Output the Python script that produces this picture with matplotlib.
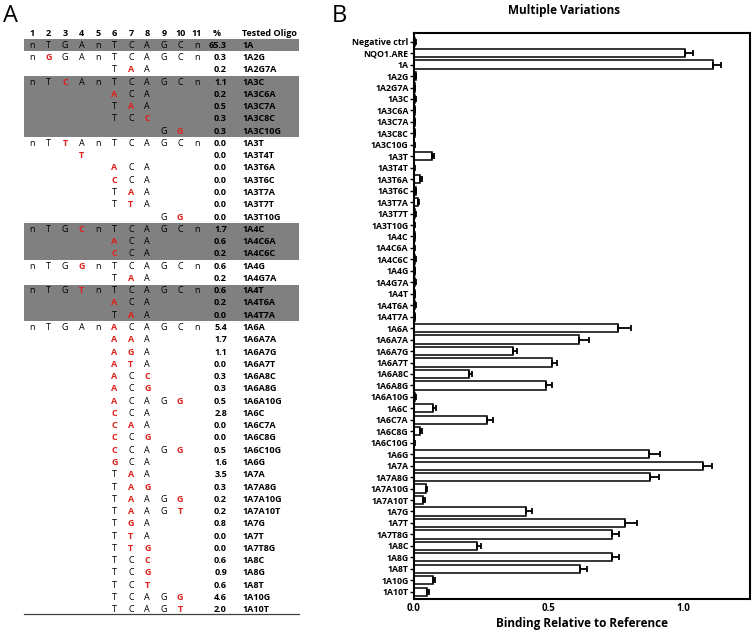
import numpy as np
import matplotlib
matplotlib.use("Agg")
import matplotlib.pyplot as plt
from matplotlib.patches import Rectangle

plt.rcParams['font.family'] = ['Open Sans', 'DejaVu Sans']

# ---- panel A: table of oligos ----
# sequence per row (11 columns, '.' = blank), red columns (1-based), percent, name
seqs = ["nTGAnTCAGCn", "nGGAnTCAGCn", ".....TAA...",
        "nTCAnTCAGCn", ".....ACA...", ".....TAA...", ".....TCC...", "........GG.",
        "nTTAnTCAGCn", "...T.......", ".....ACA...", ".....CCA...", ".....TAA...",
        ".....TTA...", "........GG.",
        "nTGCnTCAGCn", ".....ACA...", ".....CCA...",
        "nTGGnTCAGCn", ".....TAA...",
        "nTGTnTCAGCn", ".....ACA...", ".....TAA...",
        "nTGAnACAGCn", ".....AAA...", ".....AGA...", ".....ATA...", ".....ACC...",
        ".....ACG...", ".....ACAGG.", ".....CCA...", ".....CAA...", ".....CCG...",
        ".....CCAGG.", ".....GCA...",
        ".....TAA...", ".....TAG...", ".....TAAGG.", ".....TAAGT.", ".....TGA...",
        ".....TTA...", ".....TTG...", ".....TCC...", ".....TCG...", ".....TCT...",
        ".....TCAGG.", ".....TCAGT."]
red_cols = [[], [2], [7],
            [3], [6], [7], [8], [10],
            [3], [4], [6], [6], [7], [7], [10],
            [4], [6], [6],
            [4], [7],
            [4], [6], [7],
            [6], [6, 7], [6, 7], [6, 7], [6, 8], [6, 8], [6, 10], [6], [6, 7], [6, 8],
            [6, 10], [6],
            [7], [7, 8], [7, 10], [7, 10], [7], [7], [7, 8], [8], [8], [8], [10], [10]]
percents = ["65.3", "0.3", "0.2", "1.1", "0.2", "0.5", "0.3", "0.3",
            "0.0", "0.0", "0.0", "0.0", "0.0", "0.0", "0.0",
            "1.7", "0.6", "0.2", "0.6", "0.2", "0.6", "0.2", "0.0",
            "5.4", "1.7", "1.1", "0.0", "0.3", "0.3", "0.5", "2.8", "0.0", "0.0",
            "0.5", "1.6", "3.5", "0.3", "0.2", "0.2", "0.8", "0.0", "0.0",
            "0.6", "0.9", "0.6", "4.6", "2.0"]
oligos = ["1A", "1A2G", "1A2G7A", "1A3C", "1A3C6A", "1A3C7A", "1A3C8C", "1A3C10G",
          "1A3T", "1A3T4T", "1A3T6A", "1A3T6C", "1A3T7A", "1A3T7T", "1A3T10G",
          "1A4C", "1A4C6A", "1A4C6C", "1A4G", "1A4G7A", "1A4T", "1A4T6A", "1A4T7A",
          "1A6A", "1A6A7A", "1A6A7G", "1A6A7T", "1A6A8C", "1A6A8G", "1A6A10G",
          "1A6C", "1A6C7A", "1A6C8G", "1A6C10G", "1A6G",
          "1A7A", "1A7A8G", "1A7A10G", "1A7A10T", "1A7G", "1A7T", "1A7T8G",
          "1A8C", "1A8G", "1A8T", "1A10G", "1A10T"]
gray_rows = [0, 3, 4, 5, 6, 7, 15, 16, 17, 20, 21, 22]

# ---- panel B: binding ----
labels = ["Negative ctrl", "NQO1.ARE"] + oligos
binding = [0.005, 1.005, 1.11, 0.006, 0.002, 0.004, 0.002, 0.002, 0.002, 0.001,
           0.066, 0.001, 0.024, 0.006, 0.014, 0.005, 0.001,
           0.002, 0.001, 0.004, 0.003, 0.005, 0.003, 0.005, 0.003,
           0.756, 0.613, 0.367, 0.512, 0.204, 0.491, 0.005,
           0.070, 0.272, 0.022, 0.001, 0.872,
           1.073, 0.877, 0.044, 0.035, 0.414, 0.784, 0.735,
           0.233, 0.735, 0.615, 0.069, 0.049]
binding_err = [0.004, 0.03, 0.028, 0.003, 0.001, 0.002, 0.001, 0.001, 0.002, 0.001,
               0.007, 0.001, 0.006, 0.003, 0.003, 0.002, 0.001,
               0.001, 0.001, 0.002, 0.002, 0.002, 0.002, 0.002, 0.001,
               0.05, 0.037, 0.014, 0.017, 0.012, 0.02, 0.002,
               0.01, 0.02, 0.008, 0.001, 0.04,
               0.034, 0.033, 0.004, 0.004, 0.024, 0.042, 0.027,
               0.016, 0.027, 0.028, 0.008, 0.006]

W, H = 752, 630
fig = plt.figure(figsize=(W / 100, H / 100), dpi=100)

# panel A drawn in pixel coordinates
axa = fig.add_axes([0, 0, 1, 1])
axa.set_xlim(0, W)
axa.set_ylim(H, 0)
axa.axis("off")

col_x = 32 + np.arange(11) * 16.47
y0, dy = 45.3, 12.27
fs = 6.5

for r in gray_rows:
    axa.add_patch(Rectangle((24, y0 + r * dy - dy / 2), 275, dy,
                            facecolor="#808080", edgecolor="none", zorder=0))

for c in range(11):
    axa.text(col_x[c], 33.5, str(c + 1), ha="center", va="center",
             fontsize=fs, fontweight="bold")
axa.text(213, 33.5, "%", ha="left", va="center", fontsize=fs, fontweight="bold")
axa.text(242, 33.5, "Tested Oligo", ha="left", va="center", fontsize=fs,
         fontweight="bold")

for i, s in enumerate(seqs):
    y = y0 + i * dy
    for c, ch in enumerate(s):
        if ch == ".":
            continue
        red = (c + 1) in red_cols[i]
        axa.text(col_x[c], y, ch, ha="center", va="center", fontsize=fs,
                 color="#e0201b" if red else "black",
                 fontweight="bold" if red else "normal")
    axa.text(227, y, percents[i], ha="right", va="center", fontsize=fs,
             fontweight="bold")
    axa.text(242, y, oligos[i], ha="left", va="center", fontsize=fs,
             fontweight="bold")

axa.plot([24, 299], [614.3, 614.3], color="#404040", lw=0.9)

axa.text(3, 16.5, "A", fontsize=17, ha="left", va="center")
axa.text(332, 16.5, "B", fontsize=17, ha="left", va="center")

# panel B
axb = fig.add_axes([414 / W, 1 - 599 / H, (749.5 - 414) / W, (599 - 33) / H])
y = np.arange(len(labels))
axb.barh(y, binding, height=0.72, color="white", edgecolor="black", linewidth=1.1)
axb.errorbar(binding, y, xerr=[np.zeros(len(y)), binding_err], fmt="none",
             ecolor="black", elinewidth=1.3, capsize=2.2, capthick=1.3)
axb.set_ylim(48.64, -0.76)
axb.set_xlim(0, 1.245)
axb.set_yticks(y)
axb.set_yticklabels(labels, fontsize=6.3, fontweight="bold")
axb.set_xticks([0, 0.5, 1.0])
axb.set_xticklabels(["0.0", "0.5", "1.0"], fontsize=7, fontweight="bold")
axb.tick_params(axis="y", length=3, width=1, pad=1)
axb.tick_params(axis="x", length=0, pad=3)
for sp in axb.spines.values():
    sp.set_linewidth(1.5)
axb.set_xlabel("Binding Relative to Reference", fontsize=8.5, fontweight="bold",
               labelpad=2)
fig.text(564 / W, 1 - 10.5 / H, "Multiple Variations", ha="center", va="center",
         fontsize=8.5, fontweight="bold")

fig.savefig("out.png", dpi=100)
